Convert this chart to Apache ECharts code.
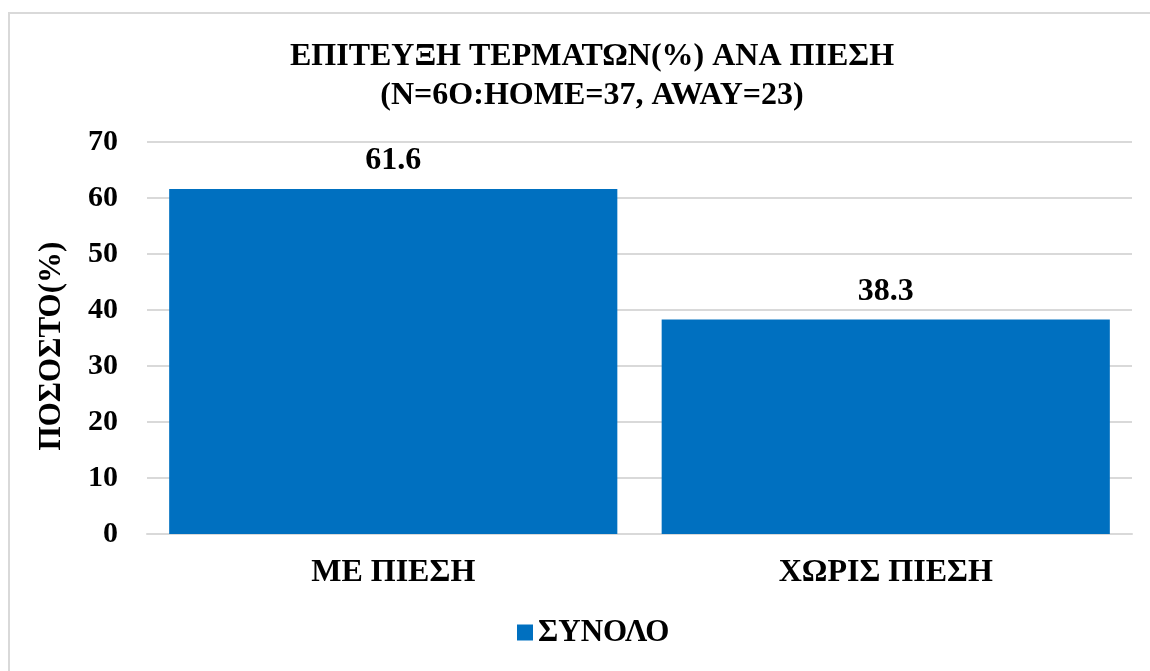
<!DOCTYPE html>
<html>
<head>
<meta charset="utf-8">
<script src="https://cdn.jsdelivr.net/npm/echarts@6/dist/echarts.min.js"></script>
<style>
  html, body { margin: 0; padding: 0; background: #fff; }
  #main { width: 1150px; height: 671px; }
</style>
</head>
<body>
<div id="main"></div>
<script>
// data
var categories = ['ΜΕ ΠΙΕΣΗ', 'ΧΩΡΙΣ ΠΙΕΣΗ'];
var totalValues = [61.6, 38.3];
var seriesName = 'ΣΥΝΟΛΟ';

var font = '"Liberation Serif", "Times New Roman", serif';

var myChart = echarts.init(document.getElementById('main'));

var option = {
  textStyle: { fontFamily: font },
  title: {
    text: 'ΕΠΙΤΕΥΞΗ ΤΕΡΜΑΤΩΝ(%) ΑΝΑ ΠΙΕΣΗ\n(N=6O:HOME=37, AWAY=23)',
    left: 587,
    textAlign: 'center',
    top: 32,
    textStyle: {
      fontFamily: font,
      fontWeight: 'bold',
      fontSize: 32,
      lineHeight: 39,
      color: '#000'
    }
  },
  // chart border
  graphic: [{
    type: 'rect',
    shape: { x: 9, y: 13, width: 1200, height: 700 },
    style: { fill: 'none', stroke: '#d9d9d9', lineWidth: 2 },
    silent: true
  }],
  legend: {
    bottom: 18,
    left: 512,
    itemWidth: 16,
    itemHeight: 16,
    itemGap: 7,
    textStyle: {
      fontFamily: font,
      fontWeight: 'bold',
      fontSize: 31,
      color: '#000'
    },
    data: [{ name: seriesName, icon: 'rect' }]
  },
  grid: {
    left: 147,
    right: 18,
    top: 142,
    bottom: 137
  },
  xAxis: {
    type: 'category',
    data: categories,
    axisTick: { show: false },
    axisLine: { lineStyle: { color: '#d9d9d9', width: 2 } },
    axisLabel: {
      margin: 23,
      fontFamily: font,
      fontWeight: 'bold',
      fontSize: 32,
      color: '#000'
    }
  },
  yAxis: {
    type: 'value',
    min: 0,
    max: 70,
    interval: 10,
    name: 'ΠΟΣΟΣΤΟ(%)',
    nameLocation: 'middle',
    nameGap: 80,
    nameTextStyle: {
      fontFamily: font,
      fontWeight: 'bold',
      fontSize: 31,
      color: '#000',
      padding: [0, 16, 0, 0]
    },
    axisLine: { show: false },
    axisTick: { show: false },
    axisLabel: {
      margin: 29,
      fontFamily: font,
      fontWeight: 'bold',
      fontSize: 30,
      color: '#000'
    },
    splitLine: { lineStyle: { color: '#d9d9d9', width: 2 } }
  },
  series: [{
    name: seriesName,
    type: 'bar',
    data: totalValues,
    barCategoryGap: '9%',
    itemStyle: { color: '#0070c0' },
    label: {
      show: true,
      position: 'top',
      distance: 12,
      formatter: function (p) { return p.value.toFixed(1); },
      fontFamily: font,
      fontWeight: 'bold',
      fontSize: 32,
      color: '#000'
    }
  }]
};

myChart.setOption(option);

window.addEventListener('resize', function () {
  myChart.resize();
});
</script>
</body>
</html>
